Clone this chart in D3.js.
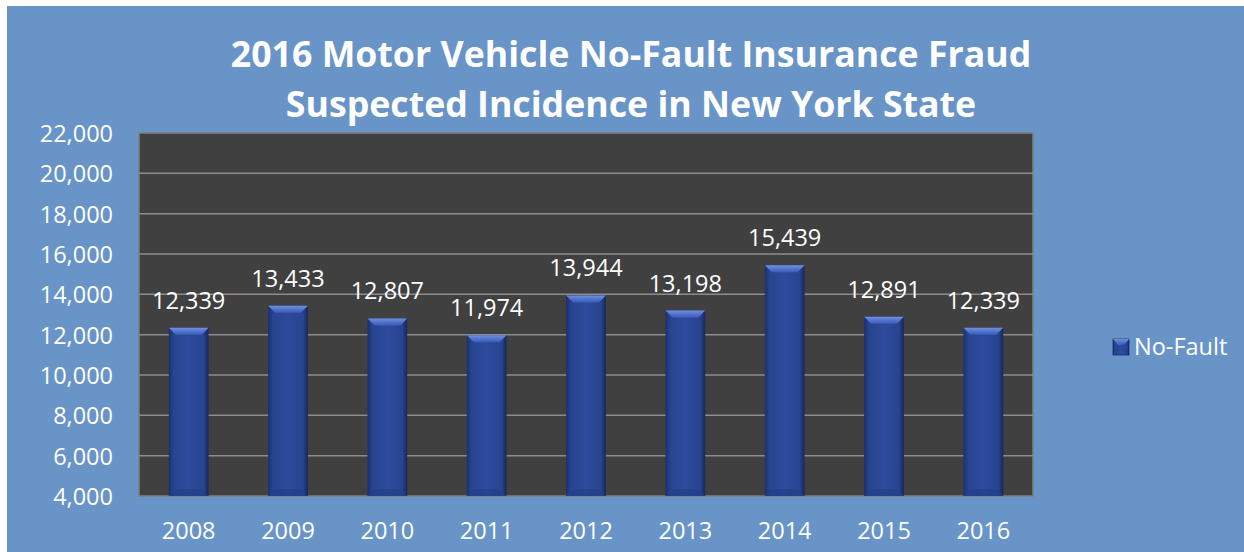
<!DOCTYPE html>
<html><head><meta charset="utf-8">
<script src="https://cdn.jsdelivr.net/npm/d3@7"></script>
<style>html,body{margin:0;padding:0;background:#fff;}svg{display:block;}</style>
</head><body>
<script>
const categories = ["2008","2009","2010","2011","2012","2013","2014","2015","2016"];
const values = [12339, 13433, 12807, 11974, 13944, 13198, 15439, 12891, 12339];
const yTicks = [4000, 6000, 8000, 10000, 12000, 14000, 16000, 18000, 20000, 22000];
const seriesName = "No-Fault";
const titleLines = ["2016 Motor Vehicle No-Fault Insurance Fraud", "Suspected Incidence in New York State"];

const W = 1244, H = 552;
const font = "'Open Sans', sans-serif";
const fs = 23.5;
const svg = d3.select("body").append("svg").attr("width", W).attr("height", H);

const defs = svg.append("defs");
const g1 = defs.append("linearGradient").attr("id","barH").attr("x1","0").attr("x2","1").attr("y1","0").attr("y2","0");
g1.append("stop").attr("offset","0").attr("stop-color","#1b2f6e");
g1.append("stop").attr("offset","0.12").attr("stop-color","#27448f");
g1.append("stop").attr("offset","0.5").attr("stop-color","#2d4b9e");
g1.append("stop").attr("offset","0.88").attr("stop-color","#27448f");
g1.append("stop").attr("offset","1").attr("stop-color","#16265a");
const g2 = defs.append("linearGradient").attr("id","bevTop").attr("x1","0").attr("x2","0").attr("y1","0").attr("y2","1");
g2.append("stop").attr("offset","0").attr("stop-color","#6f8fe0");
g2.append("stop").attr("offset","1").attr("stop-color","#3a5bb8");

// background
svg.append("rect").attr("x",7).attr("y",6).attr("width",W-7).attr("height",H-6).attr("fill","#6994c8");

const plot = {l:139, t:133, r:1033, b:496};
const x = d3.scaleBand().domain(categories).range([plot.l, plot.r]).paddingInner(0.6).paddingOuter(0.3);
const y = d3.scaleLinear().domain([4000, 22000]).range([plot.b, plot.t]);

svg.append("rect").attr("x",plot.l).attr("y",plot.t).attr("width",plot.r-plot.l).attr("height",plot.b-plot.t)
  .attr("fill","#404040").attr("stroke","#7f7f7f").attr("stroke-width",1.5);

// gridlines
svg.append("g").selectAll("line").data(yTicks.slice(1,-1)).join("line")
  .attr("x1",plot.l).attr("x2",plot.r).attr("y1",d=>y(d)).attr("y2",d=>y(d))
  .attr("stroke","#8c8c8c").attr("stroke-width",1.5);

// y axis
const yAxis = svg.append("g").attr("transform",`translate(${plot.l},0)`)
  .call(d3.axisLeft(y).tickValues(yTicks).tickFormat(d3.format(",")).tickSize(0).tickPadding(26));
yAxis.select(".domain").remove();
yAxis.selectAll("text").attr("fill","#fff").attr("font-family",font).attr("font-size",fs).attr("dy","0.36em");

// x axis
const xAxis = svg.append("g").attr("transform",`translate(0,${plot.b})`)
  .call(d3.axisBottom(x).tickSize(0).tickPadding(26));
xAxis.select(".domain").remove();
xAxis.selectAll("text").attr("fill","#fff").attr("font-family",font).attr("font-size",fs).attr("dy","0.71em");

// bars
const bars = svg.append("g").selectAll("g").data(categories.map((c,i)=>({c, v:values[i]}))).join("g");
bars.append("rect").attr("x",d=>x(d.c)).attr("y",d=>y(d.v)).attr("width",x.bandwidth()).attr("height",d=>plot.b-y(d.v))
  .attr("fill","url(#barH)");
const bev = 7;
bars.append("path").attr("d",d=>{
  const x0=x(d.c), x1=x0+x.bandwidth(), t=y(d.v);
  return `M${x0},${t}L${x1},${t}L${x1-bev},${t+bev}L${x0+bev},${t+bev}Z`;
}).attr("fill","url(#bevTop)");
bars.append("path").attr("d",d=>{
  const x0=x(d.c), x1=x0+x.bandwidth(), b=plot.b;
  return `M${x0},${b}L${x1},${b}L${x1-bev},${b-bev}L${x0+bev},${b-bev}Z`;
}).attr("fill","#23408a").attr("opacity",0.8);

// data labels
bars.append("text").attr("x",d=>x(d.c)+x.bandwidth()/2).attr("y",d=>y(d.v)-19)
  .attr("text-anchor","middle").attr("fill","#fff").attr("font-family",font).attr("font-size",fs)
  .text(d=>d3.format(",")(d.v));

// title
svg.append("g").selectAll("text").data(titleLines).join("text")
  .attr("x",631).attr("y",(d,i)=>67+i*50).attr("text-anchor","middle")
  .attr("fill","#fff").attr("font-family",font).attr("font-weight","bold").attr("font-size",35.7)
  .text(d=>d);

// legend
const lg = svg.append("g").attr("transform","translate(1113,339)");
lg.append("rect").attr("width",16).attr("height",16).attr("fill","url(#barH)").attr("stroke","#1b2f6e").attr("stroke-width",0.8);
lg.append("path").attr("d","M0,0L16,0L11,6L5,6Z").attr("fill","url(#bevTop)");
lg.append("text").attr("x",21).attr("y",15.5).attr("fill","#fff").attr("font-family",font).attr("font-size",fs).text(seriesName);
</script>
</body></html>
